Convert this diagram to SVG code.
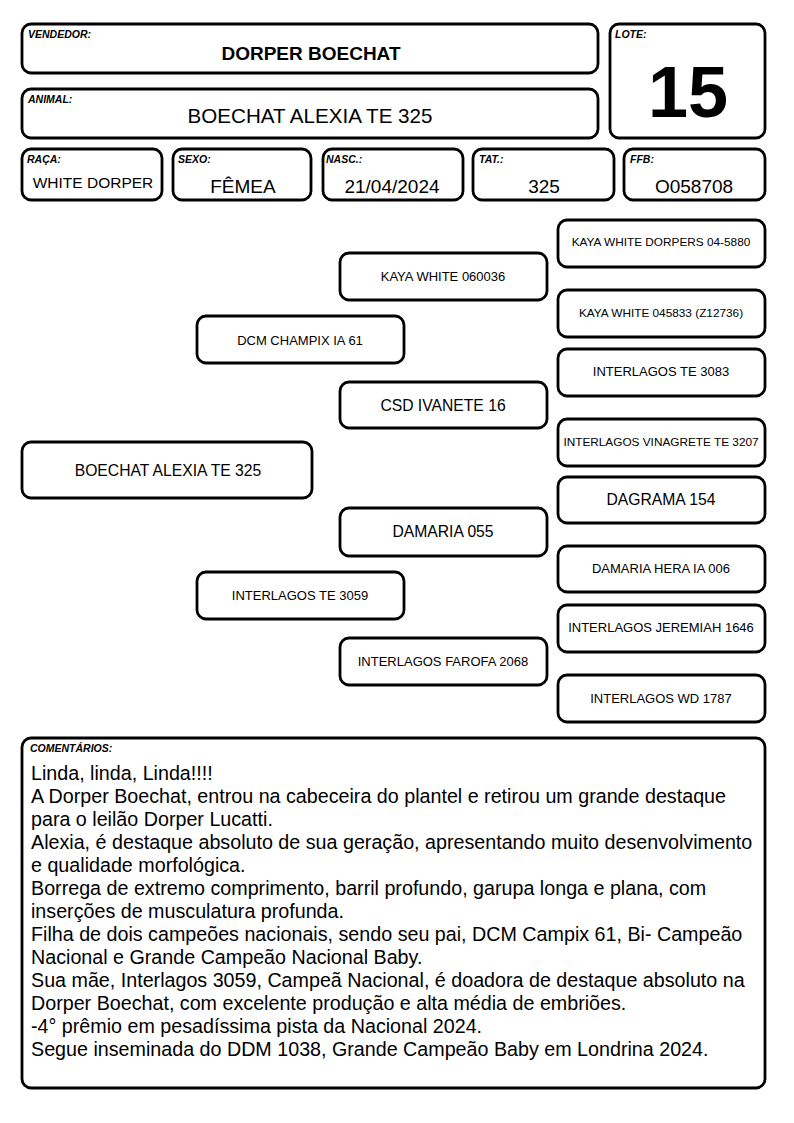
<svg xmlns="http://www.w3.org/2000/svg" width="794" height="1123" viewBox="0 0 794 1123">
<style>
.box{fill:#fff;stroke:#000;stroke-width:2.8}
.lbl{font-family:"Liberation Sans",Arial,sans-serif;font-style:italic;font-weight:bold;font-size:10.5px;fill:#000}
.val{font-family:"Liberation Sans",Arial,sans-serif;font-size:19px;fill:#000;text-anchor:middle}
.nd{font-family:"Liberation Sans",Arial,sans-serif;font-size:13px;fill:#000;text-anchor:middle}
.s16{font-size:15.7px}
.s12{font-size:11.8px}
.cm{font-family:"Liberation Sans",Arial,sans-serif;font-size:19.7px;fill:#000}
</style>
<rect width="794" height="1123" fill="#fff"/>
<g id="vendedor"><rect class="box" x="22" y="24" width="576" height="49" rx="9"/><text class="lbl" x="28" y="38">VENDEDOR:</text><text class="val" x="311" y="60" style="font-weight:bold">DORPER BOECHAT</text></g>
<g id="animal"><rect class="box" x="22" y="89" width="576" height="49" rx="9"/><text class="lbl" x="28" y="103">ANIMAL:</text><text class="val" x="310" y="123" style="font-size:20.6px">BOECHAT ALEXIA TE 325</text></g>
<g id="lote"><rect class="box" x="610" y="24" width="155" height="114" rx="9"/><text class="lbl" x="615" y="38">LOTE:</text><text class="val" x="688" y="117" style="font-size:72px;font-weight:bold">15</text></g>
<g id="raca"><rect class="box" x="22" y="149" width="140" height="51" rx="9"/><text class="lbl" x="27" y="163">RAÇA:</text><text class="val" x="93" y="188" style="font-size:15.5px">WHITE DORPER</text></g>
<g id="sexo"><rect class="box" x="173" y="149" width="138" height="51" rx="9"/><text class="lbl" x="178" y="163">SEXO:</text><text class="val" x="243" y="193">FÊMEA</text></g>
<g id="nasc"><rect class="box" x="323" y="149" width="140" height="51" rx="9"/><text class="lbl" x="326" y="163">NASC.:</text><text class="val" x="392" y="193">21/04/2024</text></g>
<g id="tat"><rect class="box" x="473" y="149" width="141" height="51" rx="9"/><text class="lbl" x="479" y="163">TAT.:</text><text class="val" x="544" y="193">325</text></g>
<g id="ffb"><rect class="box" x="624" y="149" width="141" height="51" rx="9"/><text class="lbl" x="630" y="163">FFB:</text><text class="val" x="694" y="193">O058708</text></g>
<g id="subject"><rect class="box" x="22" y="442" width="290" height="56" rx="9"/><text class="nd s16" x="168" y="476">BOECHAT ALEXIA TE 325</text></g>
<g id="sire"><rect class="box" x="197" y="316" width="207" height="47" rx="9"/><text class="nd" x="300" y="345">DCM CHAMPIX IA 61</text></g>
<g id="dam"><rect class="box" x="197" y="572" width="207" height="47" rx="9"/><text class="nd" x="300" y="600">INTERLAGOS TE 3059</text></g>
<g id="ss"><rect class="box" x="340" y="253" width="207" height="47" rx="9"/><text class="nd" x="443" y="281">KAYA WHITE 060036</text></g>
<g id="sd"><rect class="box" x="340" y="382" width="207" height="46" rx="9"/><text class="nd s16" x="443" y="411">CSD IVANETE 16</text></g>
<g id="ds"><rect class="box" x="340" y="508" width="207" height="48" rx="9"/><text class="nd s16" x="443" y="537">DAMARIA 055</text></g>
<g id="dd"><rect class="box" x="340" y="638" width="207" height="47" rx="9"/><text class="nd" x="443" y="666">INTERLAGOS FAROFA 2068</text></g>
<g id="sss"><rect class="box" x="558" y="220" width="207" height="47" rx="9"/><text class="nd s12" x="661" y="246">KAYA WHITE DORPERS 04-5880</text></g>
<g id="ssd"><rect class="box" x="558" y="290" width="207" height="47" rx="9"/><text class="nd s12" x="661" y="317">KAYA WHITE 045833 (Z12736)</text></g>
<g id="sds"><rect class="box" x="558" y="349" width="207" height="47" rx="9"/><text class="nd" x="661" y="376">INTERLAGOS TE 3083</text></g>
<g id="sdd"><rect class="box" x="558" y="419" width="207" height="47" rx="9"/><text class="nd s12" x="661" y="446">INTERLAGOS VINAGRETE TE 3207</text></g>
<g id="dss"><rect class="box" x="558" y="477" width="207" height="46" rx="9"/><text class="nd s16" x="661" y="505">DAGRAMA 154</text></g>
<g id="dsd"><rect class="box" x="558" y="546" width="207" height="46" rx="9"/><text class="nd" x="661" y="573">DAMARIA HERA IA 006</text></g>
<g id="dds"><rect class="box" x="558" y="605" width="207" height="47" rx="9"/><text class="nd" x="661" y="632">INTERLAGOS JEREMIAH 1646</text></g>
<g id="ddd"><rect class="box" x="558" y="675" width="207" height="47" rx="9"/><text class="nd" x="661" y="703">INTERLAGOS WD 1787</text></g>
<g id="connectors"></g>
<g id="comentarios"><rect class="box" x="22" y="738" width="743" height="350" rx="9"/><text class="lbl" x="30" y="752">COMENTÁRIOS:</text>
<text class="cm" x="31" y="780">Linda, linda, Linda!!!!</text>
<text class="cm" x="31" y="803">A Dorper Boechat, entrou na cabeceira do plantel e retirou um grande destaque</text>
<text class="cm" x="31" y="826">para o leilão Dorper Lucatti.</text>
<text class="cm" x="31" y="849">Alexia, é destaque absoluto de sua geração, apresentando muito desenvolvimento</text>
<text class="cm" x="31" y="872">e qualidade morfológica.</text>
<text class="cm" x="31" y="895">Borrega de extremo comprimento, barril profundo, garupa longa e plana, com</text>
<text class="cm" x="31" y="918">inserções de musculatura profunda.</text>
<text class="cm" x="31" y="941">Filha de dois campeões nacionais, sendo seu pai, DCM Campix 61, Bi- Campeão</text>
<text class="cm" x="31" y="964">Nacional e Grande Campeão Nacional Baby.</text>
<text class="cm" x="31" y="987">Sua mãe, Interlagos 3059, Campeã Nacional, é doadora de destaque absoluto na</text>
<text class="cm" x="31" y="1010">Dorper Boechat, com excelente produção e alta média de embriões.</text>
<text class="cm" x="31" y="1033">-4° prêmio em pesadíssima pista da Nacional 2024.</text>
<text class="cm" x="31" y="1056">Segue inseminada do DDM 1038, Grande Campeão Baby em Londrina 2024.</text>
</g>
</svg>
